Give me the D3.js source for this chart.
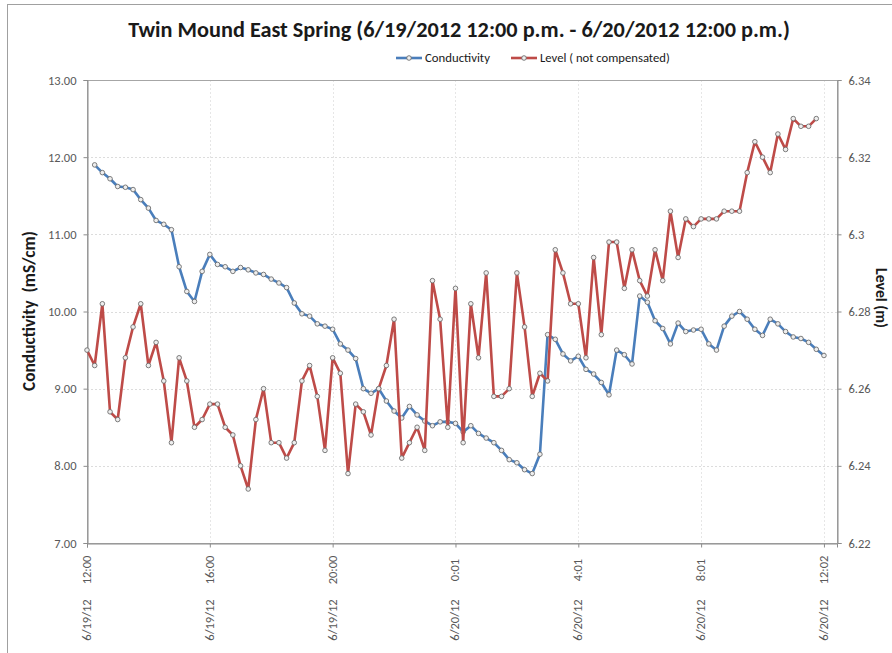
<!DOCTYPE html>
<html>
<head>
<meta charset="utf-8">
<script src="https://cdn.jsdelivr.net/npm/d3@7"></script>
<style>
  html, body { margin: 0; padding: 0; background: #fff; }
  svg { display: block; font-family: Carlito, Calibri, Lato, "Open Sans", sans-serif; }
</style>
</head>
<body>
<svg id="chart" width="892" height="653"></svg>
<script>
// 15-minute readings, 6/19/2012 12:00 to 6/20/2012 12:02 (index = reading number)
const conductivity = [
  null, 11.90, 11.80, 11.72, 11.62, 11.61, 11.58, 11.45, 11.34, 11.18, 11.13, 11.06, 10.58, 10.26, 10.13, 10.52,
  10.74, 10.61, 10.58, 10.52, 10.57, 10.54, 10.50, 10.48, 10.42, 10.37, 10.31, 10.11, 9.97, 9.94, 9.84, 9.81,
  9.77, 9.58, 9.50, 9.39, 9.00, 8.94, 9.00, 8.84, 8.71, 8.62, 8.77, 8.66, 8.58, 8.52, 8.57, 8.57,
  8.55, 8.44, 8.52, 8.42, 8.36, 8.30, 8.20, 8.08, 8.04, 7.95, 7.90, 8.15, 9.70, 9.64, 9.45, 9.36,
  9.42, 9.25, 9.19, 9.08, 8.92, 9.50, 9.44, 9.32, 10.20, 10.12, 9.88, 9.78, 9.58, 9.85, 9.74, 9.76,
  9.77, 9.58, 9.50, 9.81, 9.94, 10.00, 9.90, 9.77, 9.69, 9.90, 9.84, 9.74, 9.67, 9.65, 9.60, 9.51, 9.43
];
const level = [
  6.270, 6.266, 6.282, 6.254, 6.252, 6.268, 6.276, 6.282, 6.266, 6.272, 6.262, 6.246, 6.268, 6.262, 6.250, 6.252,
  6.256, 6.256, 6.250, 6.248, 6.240, 6.234, 6.252, 6.260, 6.246, 6.246, 6.242, 6.246, 6.262, 6.266, 6.258, 6.244,
  6.268, 6.264, 6.238, 6.256, 6.254, 6.248, 6.260, 6.266, 6.278, 6.242, 6.246, 6.250, 6.244, 6.288, 6.278, 6.250,
  6.286, 6.246, 6.282, 6.268, 6.290, 6.258, 6.258, 6.260, 6.290, 6.276, 6.258, 6.264, 6.262, 6.296, 6.290, 6.282,
  6.282, 6.268, 6.294, 6.274, 6.298, 6.298, 6.286, 6.296, 6.288, 6.284, 6.296, 6.288, 6.306, 6.294, 6.304, 6.302,
  6.304, 6.304, 6.304, 6.306, 6.306, 6.306, 6.316, 6.324, 6.320, 6.316, 6.326, 6.322, 6.330, 6.328, 6.328, 6.330, null
];

// Category axis labels (every 16th reading)
const xTickIndex = [0, 16, 32, 48, 64, 80, 96];
const xTickTime  = ["12:00", "16:00", "20:00", "0:01", "4:01", "8:01", "12:02"];
const xTickDate  = ["6/19/12", "6/19/12", "6/19/12", "6/20/12", "6/20/12", "6/20/12", "6/20/12"];

const leftTicks  = [7, 8, 9, 10, 11, 12, 13];
const rightTicks = [6.22, 6.24, 6.26, 6.28, 6.3, 6.32, 6.34];

const titleText = "Twin Mound East Spring (6/19/2012 12:00 p.m. - 6/20/2012 12:00 p.m.)";
const seriesNames = ["Conductivity", "Level ( not compensated)"];
const seriesColors = ["#4a7ebb", "#be4b48"];

const svg = d3.select("#chart");
const W = 892, H = 653;
const plot = { left: 87, right: 837, top: 80, bottom: 543 };

// chart frame (its right and bottom edges fall outside the canvas)
svg.append("rect")
  .attr("x", 7.5).attr("y", 4.5).attr("width", W + 20).attr("height", H + 20)
  .attr("fill", "#fff").attr("stroke", "#a0a0a0");

const x = d3.scaleLinear().domain([0, 97.7]).range([plot.left, plot.right]);
const yL = d3.scaleLinear().domain([7, 13]).range([plot.bottom, plot.top]);
const yR = d3.scaleLinear().domain([6.22, 6.34]).range([plot.bottom, plot.top]);

// gridlines
const grid = svg.append("g").attr("stroke", "#dcdcdc").attr("stroke-dasharray", "2,2").attr("stroke-width", 1);
grid.selectAll("line.h").data(leftTicks.slice(1, -1)).join("line")
  .attr("x1", plot.left).attr("x2", plot.right)
  .attr("y1", d => Math.round(yL(d)) + 0.5).attr("y2", d => Math.round(yL(d)) + 0.5);
grid.selectAll("line.v").data(xTickIndex.slice(1)).join("line")
  .attr("stroke", "#e6e6e6")
  .attr("x1", d => Math.round(x(d)) + 0.5).attr("x2", d => Math.round(x(d)) + 0.5)
  .attr("y1", plot.top).attr("y2", plot.bottom);

// plot-area border
svg.append("rect")
  .attr("x", plot.left + 0.5).attr("y", plot.top + 0.5)
  .attr("width", plot.right - plot.left).attr("height", plot.bottom - plot.top)
  .attr("fill", "none").attr("stroke", "#a6a6a6");

const tickColor = "#595959";

// left axis
const axL = svg.append("g").attr("transform", `translate(${plot.left + 0.5},0)`)
  .call(d3.axisLeft(yL).tickValues(leftTicks).tickFormat(d3.format(".2f")).tickSize(4).tickPadding(7));
// right axis
const axR = svg.append("g").attr("transform", `translate(${plot.right + 0.5},0)`)
  .call(d3.axisRight(yR).tickValues(rightTicks).tickFormat(d => String(d)).tickSize(4).tickPadding(7));
// bottom axis (tick marks only; labels drawn rotated below)
const axB = svg.append("g").attr("transform", `translate(0,${plot.bottom + 0.5})`)
  .call(d3.axisBottom(x).tickValues(xTickIndex).tickFormat("").tickSize(4));

[axL, axR, axB].forEach(g => {
  g.select(".domain").attr("stroke", "#8c8c8c");
  g.selectAll(".tick line").attr("stroke", "#8c8c8c");
  g.selectAll(".tick text").attr("fill", tickColor).attr("font-size", 12.5)
    .attr("font-family", "Carlito, Calibri, Lato, sans-serif");
});

// rotated two-part category labels
const xl = svg.append("g").attr("fill", tickColor).attr("font-size", 12.5);
xTickIndex.forEach((d, i) => {
  const cx = x(d) + 4;
  xl.append("text").attr("transform", `translate(${cx},570) rotate(-90)`)
    .attr("text-anchor", "middle").text(xTickTime[i]);
  xl.append("text").attr("transform", `translate(${cx},620) rotate(-90)`)
    .attr("text-anchor", "middle").text(xTickDate[i]);
});

// series lines + markers
const series = [
  { values: conductivity, y: yL, color: seriesColors[0] },
  { values: level, y: yR, color: seriesColors[1] }
];
series.forEach(s => {
  const pts = s.values.map((v, i) => ({ i, v })).filter(p => p.v != null);
  const line = d3.line().x(p => x(p.i)).y(p => s.y(p.v));
  svg.append("path").datum(pts).attr("d", line)
    .attr("fill", "none").attr("stroke", s.color).attr("stroke-width", 2.6)
    .attr("stroke-linejoin", "round");
  svg.append("g").selectAll("circle").data(pts).join("circle")
    .attr("cx", p => x(p.i)).attr("cy", p => s.y(p.v)).attr("r", 2.3)
    .attr("fill", "#eeeeee").attr("stroke", "#6e6e6e").attr("stroke-width", 0.9);
});

// helper: size a text so its width matches a target
function fitText(sel, target) {
  const base = +sel.attr("font-size");
  const w = sel.node().getComputedTextLength();
  if (w > 0) sel.attr("font-size", base * target / w);
}

// title
const title = svg.append("text").attr("x", 459).attr("y", 37)
  .attr("text-anchor", "middle").attr("font-size", 20).attr("font-weight", "bold")
  .attr("fill", "#1a1a1a").text(titleText);
fitText(title, 662);

// legend
const legend = svg.append("g").attr("fill", "#1a1a1a");
const legendX = [396, 511];
const legendW = [65, 130];
seriesNames.forEach((name, i) => {
  const g = legend.append("g").attr("transform", `translate(${legendX[i]},58)`);
  g.append("line").attr("x1", 0).attr("x2", 26).attr("y1", 0).attr("y2", 0)
    .attr("stroke", seriesColors[i]).attr("stroke-width", 2.6);
  g.append("circle").attr("cx", 13).attr("cy", 0).attr("r", 2.3)
    .attr("fill", "#eeeeee").attr("stroke", "#6e6e6e").attr("stroke-width", 0.9);
  const t = g.append("text").attr("x", 29).attr("y", 4).attr("font-size", 12).text(name);
  fitText(t, legendW[i]);
});

// axis titles
const lt = svg.append("text").attr("transform", "translate(35,311) rotate(-90)")
  .attr("text-anchor", "middle").attr("font-size", 14).attr("font-weight", "bold")
  .attr("fill", "#1a1a1a").attr("xml:space", "preserve").text("Conductivity  (mS/cm)");
fitText(lt, 160);
const rt = svg.append("text").attr("transform", "translate(876,298) rotate(90)")
  .attr("text-anchor", "middle").attr("font-size", 14).attr("font-weight", "bold")
  .attr("fill", "#1a1a1a").text("Level (m)");
fitText(rt, 60);
</script>
</body>
</html>
